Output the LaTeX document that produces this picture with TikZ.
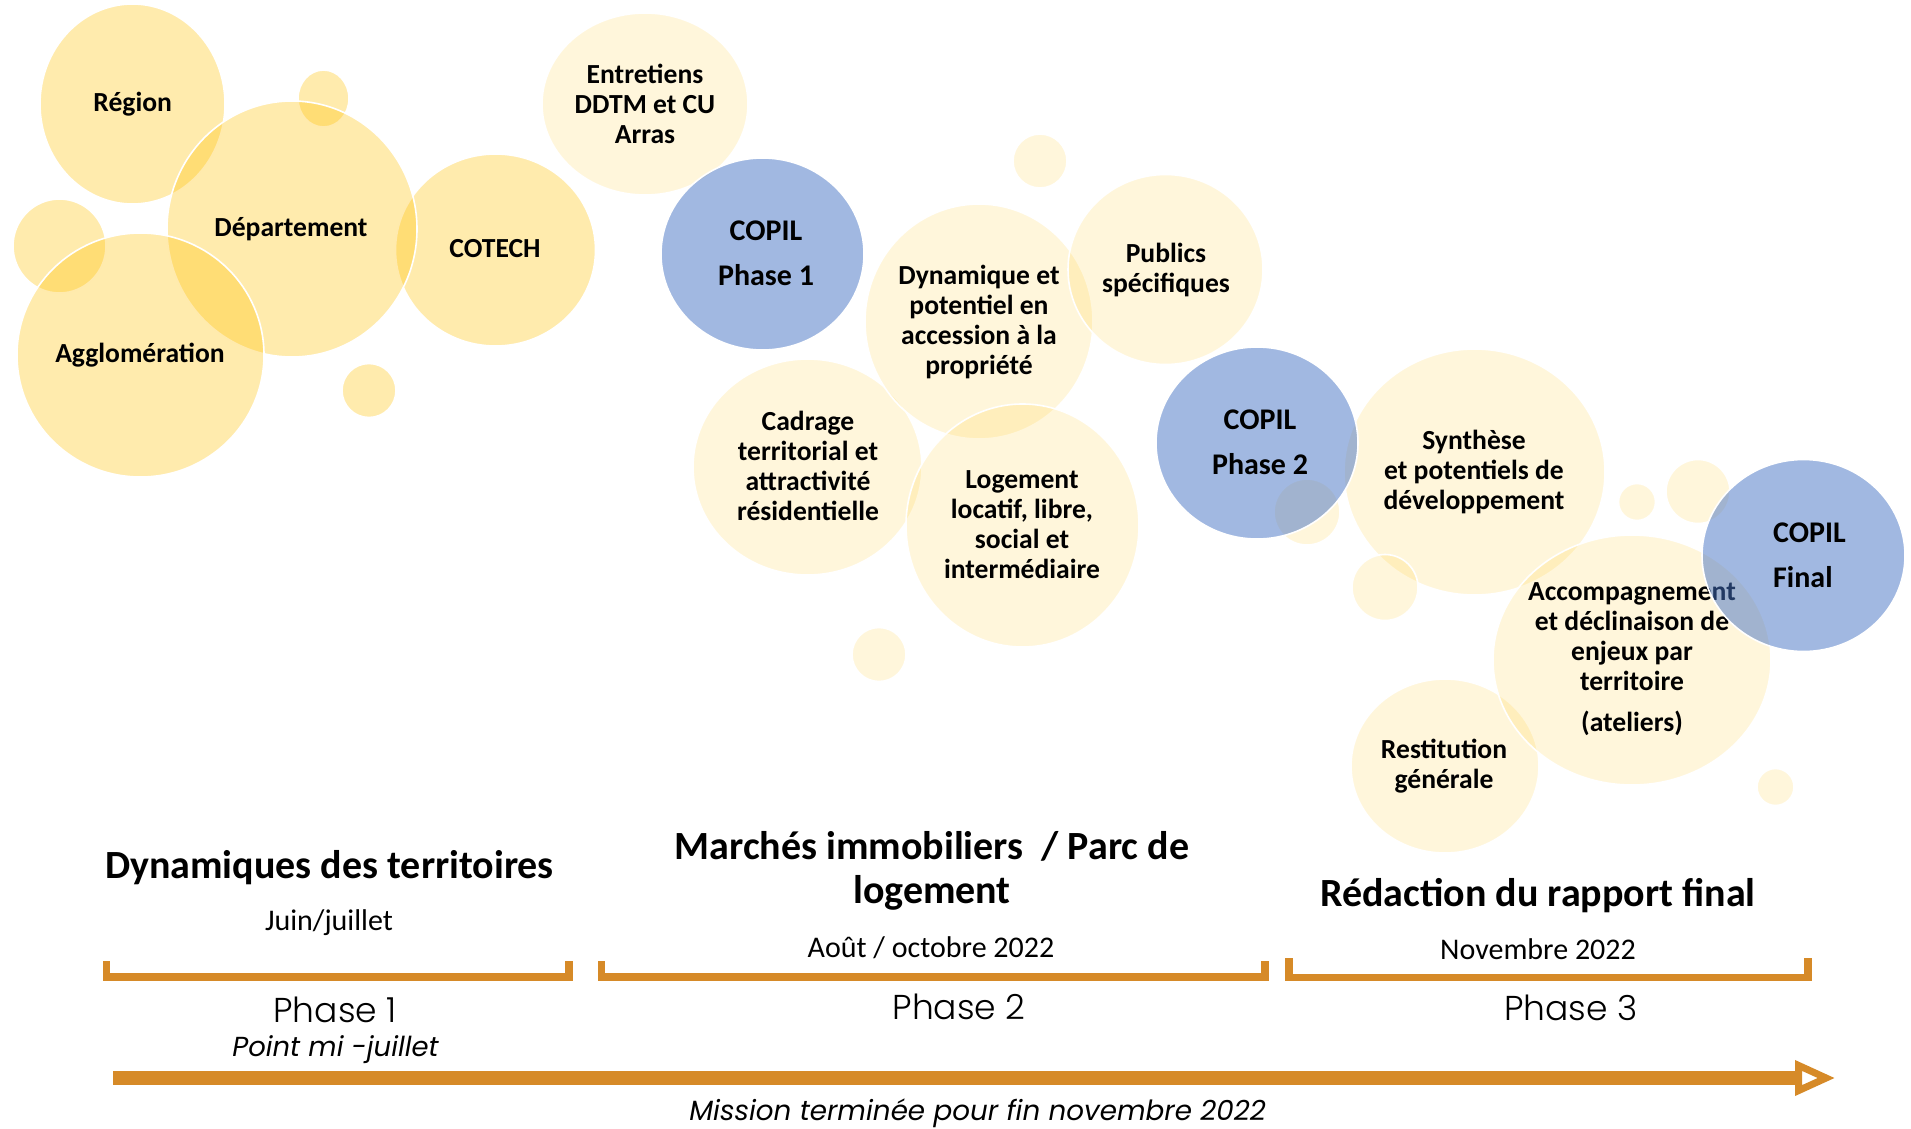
\documentclass[tikz,border=0pt]{standalone}
\usepackage{fontspec}
\setmainfont{Carlito}
\IfFontExistsTF{Poppins Light}{%
  \newfontfamily\phasefont{Poppins Light}}{%
  \newfontfamily\phasefont{Poppins}}
\newfontfamily\notefont{Poppins}
\usetikzlibrary{arrows.meta}
\definecolor{jaune}{HTML}{FFC000}
\definecolor{bleu}{HTML}{4472C4}
\definecolor{ocre}{HTML}{D68A28}

\begin{document}
\begin{tikzpicture}[x=1pt, y=-1pt, line join=round,
  bulle/.style={fill=jaune, fill opacity=.32, draw=white, line width=1.6},
  pale/.style={fill=jaune, fill opacity=.14, draw=white, line width=1.6},
  copil/.style={fill=bleu, fill opacity=.5, draw=white, line width=1.6},
  txt/.style={font=\fontsize{27.6}{30}\selectfont\bfseries, align=center, inner sep=0pt},
  copiltxt/.style={font=\fontsize{30}{33}\selectfont\bfseries, align=center, inner sep=0pt},
  titre/.style={font=\fontsize{40}{44}\selectfont\bfseries, align=center, inner sep=0pt},
  datetxt/.style={font=\fontsize{30}{34}\selectfont, inner sep=0pt},
  phasetxt/.style={font=\fontsize{34.5}{40}\selectfont\phasefont, inner sep=0pt},
  notetxt/.style={font=\fontsize{27.5}{32}\selectfont\notefont\itshape, inner sep=0pt},
  accolade/.style={draw=ocre, line width=7.5, line join=miter}]
  \useasboundingbox (0,0) rectangle (1911,1129);

  % Bulles de la phase 1
  \filldraw[bulle] (132.5,104) ellipse (92.5 and 100);
  \node[txt] (region) at (132.7,104) {Région};
  \filldraw[bulle] (323.5,98.5) ellipse (25.5 and 28.5);
  \filldraw[bulle] (495.5,250) ellipse (100 and 96);
  \node[txt] (cotech) at (495,249) {COTECH};
  \filldraw[bulle] (292,229) ellipse (125 and 128);
  \node[txt] (dept) at (291,229) {Département};
  \filldraw[bulle] (59.5,246) ellipse (46.5 and 47);
  \filldraw[bulle] (140.5,355) ellipse (123.5 and 122);
  \node[txt] (agglo) at (140,355) {Agglomération};
  \filldraw[bulle] (369,390.5) circle (27);

  % Entretiens et COPIL 1
  \filldraw[pale] (645,104) ellipse (103 and 91);
  \node[txt] (entretiens) at (645,104) {Entretiens\\DDTM et CU\\Arras};
  \filldraw[copil] (762.5,254) ellipse (101.5 and 96);
  \node[copiltxt] (copilA) at (766,253.5) {COPIL\\[12pt]Phase 1};

  % Bulles de la phase 2
  \filldraw[pale] (1040,161) circle (27);
  \filldraw[pale] (807.5,467) ellipse (114.5 and 108);
  \node[txt] (cadrage) at (808,466) {Cadrage\\territorial et\\attractivité\\résidentielle};
  \filldraw[pale] (979,321.5) ellipse (114 and 117.5);
  \node[txt] (dynamique) at (979,321.7) {Dynamique et\\potentiel en\\accession à la\\propriété};
  \filldraw[pale] (1165.5,269.5) ellipse (97.5 and 95);
  \node[txt] (publics) at (1166,270) {Publics\\spécifiques};
  \filldraw[pale] (1022.5,525.5) ellipse (116.5 and 121.5);
  \node[txt] (logement) at (1022,525) {Logement\\locatif, libre,\\social et\\intermédiaire};
  \filldraw[pale] (879,654.5) circle (27);
  \filldraw[pale] (1307,512) circle (33);
  \filldraw[pale] (1474.5,472) ellipse (130.5 and 123);
  \node[txt] (synthese) at (1474,471.5) {Synthèse\\et potentiels de\\développement};
  \filldraw[copil] (1257,443) ellipse (101 and 96);
  \node[copiltxt] (copilB) at (1260,442.5) {COPIL\\[12pt]Phase 2};

  % Bulles de la phase 3
  \filldraw[pale] (1385,587.5) circle (33);
  \filldraw[pale] (1445,766) ellipse (94 and 87);
  \node[txt] (restit) at (1444,766) {Restitution\\générale};
  \filldraw[pale] (1632,660) ellipse (139 and 125);
  \node[txt] (accomp) at (1632,659) {Accompagnement\\et déclinaison de\\enjeux par\\territoire\\[11pt](ateliers)};
  \filldraw[pale] (1637,502) circle (18.5);
  \filldraw[pale] (1698,491.5) circle (32);
  \filldraw[copil] (1803.5,555.5) ellipse (101.5 and 96);
  \node[copiltxt, align=left, anchor=west] (copilF) at (1773,555.5) {COPIL\\[12pt]Final};
  \filldraw[pale] (1775.5,787) circle (18.5);

  % Titres et dates
  \node[titre] (titreA) at (329.5,868) {Dynamiques des territoires};
  \node[datetxt] (dateA) at (329,922.5) {Juin/juillet};
  \node[titre] (titreB) at (932,871) {Marchés immobiliers\ \ / Parc de\\logement};
  \node[datetxt] (dateB) at (931,948) {Août / octobre 2022};
  \node[titre] (titreC) at (1538,896) {Rédaction du rapport final};
  \node[datetxt] (dateC) at (1538,949.5) {Novembre 2022};

  % Accolades
  \draw[accolade] (106.5,961) |- (569,977) -- (569,961);
  \draw[accolade] (601.5,961) |- (1265,977) -- (1265,961);
  \draw[accolade] (1289,958) |- (1808,977.5) -- (1808,958);

  % Phases
  \node[phasetxt] (phaseA) at (335,1010) {Phase 1};
  \node[phasetxt] (phaseB) at (959,1007) {Phase 2};
  \node[phasetxt] (phaseC) at (1571,1008) {Phase 3};
  \node[notetxt] (point) at (335.5,1050) {Point mi -juillet};

  % Fleche du temps
  \coordinate (debut) at (113,1078);
  \coordinate (fin) at (1835,1078);
  \draw[ocre, line width=14, -{Triangle[open, length=40pt, width=34pt, line width=7pt]}] (debut) -- (fin);
  \node[notetxt, font=\fontsize{27.8}{32}\selectfont\notefont\itshape] (mission) at (977.5,1113) {Mission terminée pour fin novembre 2022};
\end{tikzpicture}
\end{document}
